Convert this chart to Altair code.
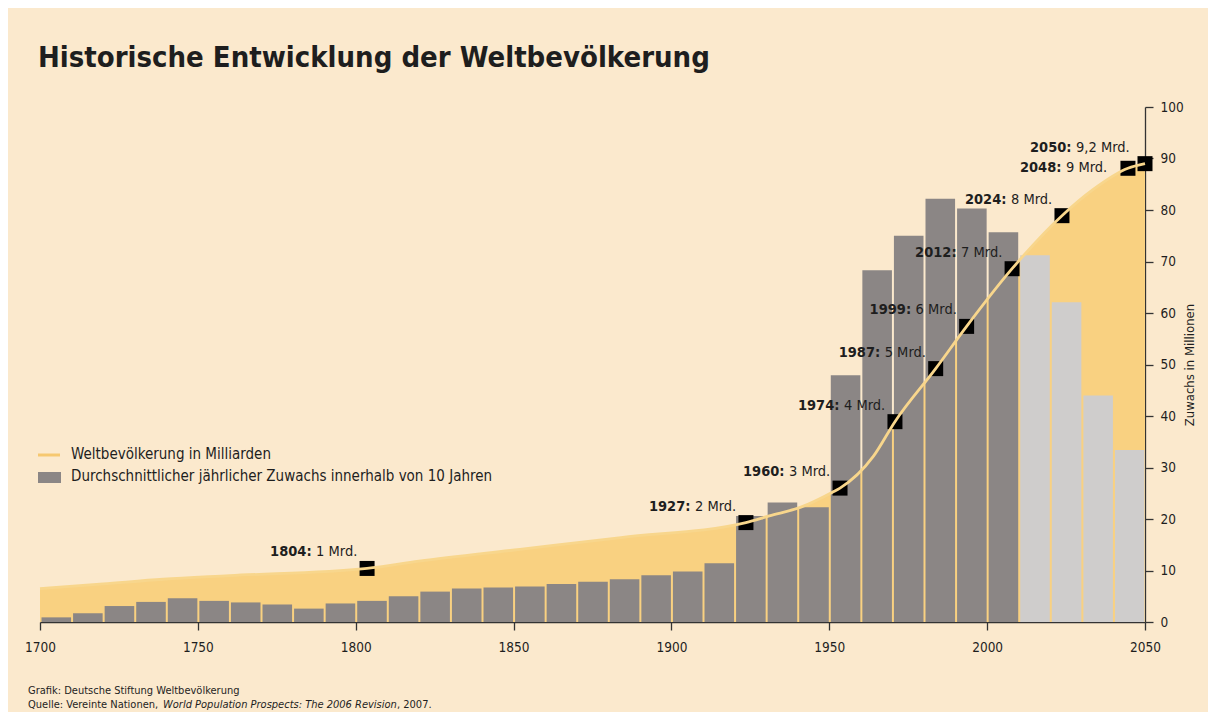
import altair as alt
import pandas as pd

# ---------------- data ----------------
bar_start = [1700, 1710, 1720, 1730, 1740, 1750, 1760, 1770, 1780, 1790,
             1800, 1810, 1820, 1830, 1840, 1850, 1860, 1870, 1880, 1890,
             1900, 1910, 1920, 1930, 1940, 1950, 1960, 1970, 1980, 1990,
             2000, 2010, 2020, 2030, 2040]
bar_growth = [0.9, 1.7, 3.1, 3.9, 4.6, 4.1, 3.8, 3.4, 2.6, 3.6,
              4.1, 5.0, 5.9, 6.5, 6.7, 6.9, 7.4, 7.8, 8.3, 9.1,
              9.8, 11.4, 20.6, 23.2, 22.3, 47.9, 68.3, 75.0, 82.2, 80.3,
              75.7, 71.2, 62.1, 44.0, 33.4]
projection_from = 2010

pop_year = [1700, 1720, 1739, 1760, 1803.6, 1820, 1852, 1884, 1923.6,
            1931, 1941, 1951, 1953.4, 1964, 1970.8, 1983.7, 1993.5,
            2007.9, 2023.7, 2033.6, 2044.6, 2050]
pop_mrd = [0.65, 0.74, 0.83, 0.90, 1.04, 1.18, 1.41, 1.64, 1.93,
           2.06, 2.23, 2.52, 2.60, 3.22, 3.89, 4.92, 5.74,
           6.86, 7.89, 8.40, 8.81, 8.90]

marker_pos = [1803.6, 1923.6, 1953.4, 1970.8, 1983.7, 1993.5, 2007.9, 2023.7, 2044.6, 2050]
marker_mrd = [1.04, 1.93, 2.60, 3.89, 4.92, 5.74, 6.86, 7.89, 8.81, 8.90]
marker_year = ["1804:", "1927:", "1960:", "1974:", "1987:", "1999:", "2012:", "2024:", "2048:", "2050:"]
marker_amount = ["1 Mrd.", "2 Mrd.", "3 Mrd.", "4 Mrd.", "5 Mrd.", "6 Mrd.", "7 Mrd.", "8 Mrd.", "9 Mrd.", "9,2 Mrd."]

x_ticks = [1700, 1750, 1800, 1850, 1900, 1950, 2000, 2050]
y_ticks = [0, 10, 20, 30, 40, 50, 60, 70, 80, 90, 100]

title_text = "Historische Entwicklung der Weltbevölkerung"
legend_line = "Weltbevölkerung in Milliarden"
legend_bar = "Durchschnittlicher jährlicher Zuwachs innerhalb von 10 Jahren"
y_title = "Zuwachs in Millionen"
credit = "Grafik: Deutsche Stiftung Weltbevölkerung"
source_a = "Quelle: Vereinte Nationen,"
source_b = "World Population Prospects: The 2006 Revision"
source_c = ", 2007."

# ---------------- styles ----------------
FONT = "DejaVu Sans Condensed, Liberation Sans Narrow, sans-serif"
BG = "#fbe9cd"
AREA = "#f9d181"
LINE = "#f8d68c"
GRAY = "#8b8685"
LIGHT = "#cfcdcc"
INK = "#1e1e1e"

bars_df = pd.DataFrame({"start": bar_start, "growth": bar_growth})
bars_df["end"] = bars_df["start"] + 10
bars_df["kind"] = ["Prognose" if s >= projection_from else "Bisher" for s in bar_start]
pop_df = pd.DataFrame({"year": pop_year, "mrd": pop_mrd})
mk_df = pd.DataFrame({"pos": marker_pos, "mrd": marker_mrd,
                      "ylab": marker_year, "amt": marker_amount})

xs = alt.Scale(domain=[1700, 2050], nice=False, zero=False)
ys = alt.Scale(domain=[0, 100], nice=False, zero=True)

# axes are specified once (explicitly) on the first layer; the other layers
# leave their axes implicit so that the explicit settings win when merged.
x_axis = alt.Axis(values=x_ticks, format="d", tickSize=8, labelPadding=10,
                  labelFontSize=13.5, labelFont=FONT, labelColor=INK,
                  domainColor="#333333", tickColor="#333333", domainWidth=1.3,
                  tickWidth=1.3, grid=False, title=None, labelFlush=False,
                  labelOverlap=False)
y_axis = alt.Axis(orient="right", values=y_ticks, tickSize=8, labelPadding=7,
                  labelFontSize=13.5, labelFont=FONT, labelColor=INK,
                  domainColor="#333333", tickColor="#333333", domainWidth=1.3,
                  tickWidth=1.3, grid=False, title=y_title, titleAngle=270,
                  titleFont=FONT, titleFontSize=13, titleFontWeight="normal",
                  titleColor=INK, titlePadding=13, labelOverlap=False)

area = alt.Chart(pop_df).transform_calculate(v="datum.mrd * 10").mark_area(
    color=AREA, interpolate="monotone").encode(
    x=alt.X("year:Q", scale=xs, axis=x_axis),
    y=alt.Y("v:Q", scale=ys, axis=y_axis))

bars = alt.Chart(bars_df).mark_bar(binSpacing=2).encode(
    x=alt.X("start:Q", bin="binned", scale=xs),
    x2="end:Q",
    y=alt.Y("growth:Q", scale=ys),
    color=alt.Color("kind:N", scale=alt.Scale(domain=["Bisher", "Prognose"],
                                              range=[GRAY, LIGHT]), legend=None))

markers = alt.Chart(mk_df).transform_calculate(v="datum.mrd * 10").mark_square(
    size=225, color="black", opacity=1).encode(
    x=alt.X("pos:Q", scale=xs),
    y=alt.Y("v:Q", scale=ys))

line = alt.Chart(pop_df).transform_calculate(v="datum.mrd * 10").mark_line(
    color=LINE, strokeWidth=2.8, interpolate="monotone").encode(
    x=alt.X("year:Q", scale=xs),
    y=alt.Y("v:Q", scale=ys))

LABEL_SIZE = 14.5


def label_layers(filter_expr, dx, dy):
    base = alt.Chart(mk_df).transform_filter(filter_expr).transform_calculate(
        v="datum.mrd * 10").encode(
        x=alt.X("pos:Q", scale=xs),
        y=alt.Y("v:Q", scale=ys))
    bold = base.mark_text(align="left", baseline="middle", dx=dx, dy=dy,
                          font=FONT, fontSize=LABEL_SIZE, fontWeight="bold",
                          color=INK).encode(text="ylab:N")
    norm = base.mark_text(align="left", baseline="middle", dx=dx + 46, dy=dy,
                          font=FONT, fontSize=LABEL_SIZE, color=INK).encode(text="amt:N")
    return [bold, norm]


labels = (label_layers("datum.ylab != '2048:' && datum.ylab != '2050:'", -97, -16)
          + label_layers("datum.ylab == '2048:'", -108, 0)
          + label_layers("datum.ylab == '2050:'", -115, -16))


def txt(s, x, y, size, weight="normal", style="normal", baseline="middle"):
    return alt.Chart(pd.DataFrame({"t": [s]})).mark_text(
        align="left", baseline=baseline, font=FONT, fontSize=size,
        fontWeight=weight, fontStyle=style, color=INK).encode(
        text="t:N", x=alt.value(x), y=alt.value(y))


title = txt(title_text, -2, -40, 29, weight="bold", baseline="alphabetic")
leg_line = alt.Chart(pd.DataFrame({"t": [legend_line]})).mark_rule(
    color="#f6c870", strokeWidth=3).encode(
    x=alt.value(-2), x2=alt.value(20), y=alt.value(348))
leg_rect = alt.Chart(pd.DataFrame({"t": [legend_bar]})).mark_rect(
    color=GRAY).encode(x=alt.value(-2), x2=alt.value(21),
                       y=alt.value(365), y2=alt.value(376))
leg_t1 = txt(legend_line, 31, 347, 15)
leg_t2 = txt(legend_bar, 31, 369, 15)
foot1 = txt(credit, -12, 584, 11)
foot2a = txt(source_a, -12, 598, 11)
foot2b = txt(source_b, 123, 598, 11, style="italic")
foot2c = txt(source_c, 357, 598, 11)

chart = alt.layer(
    area, bars, markers, line, *labels, title, leg_line, leg_rect, leg_t1, leg_t2,
    foot1, foot2a, foot2b, foot2c
).properties(
    width=1105, height=515,
    padding={"left": 32, "top": 99, "right": 63, "bottom": 90},
    autosize=alt.AutoSizeParams(type="none"),
    background=BG,
).configure_view(stroke=None)

chart.save("out.html", embed_options={"renderer": "svg", "actions": False})
